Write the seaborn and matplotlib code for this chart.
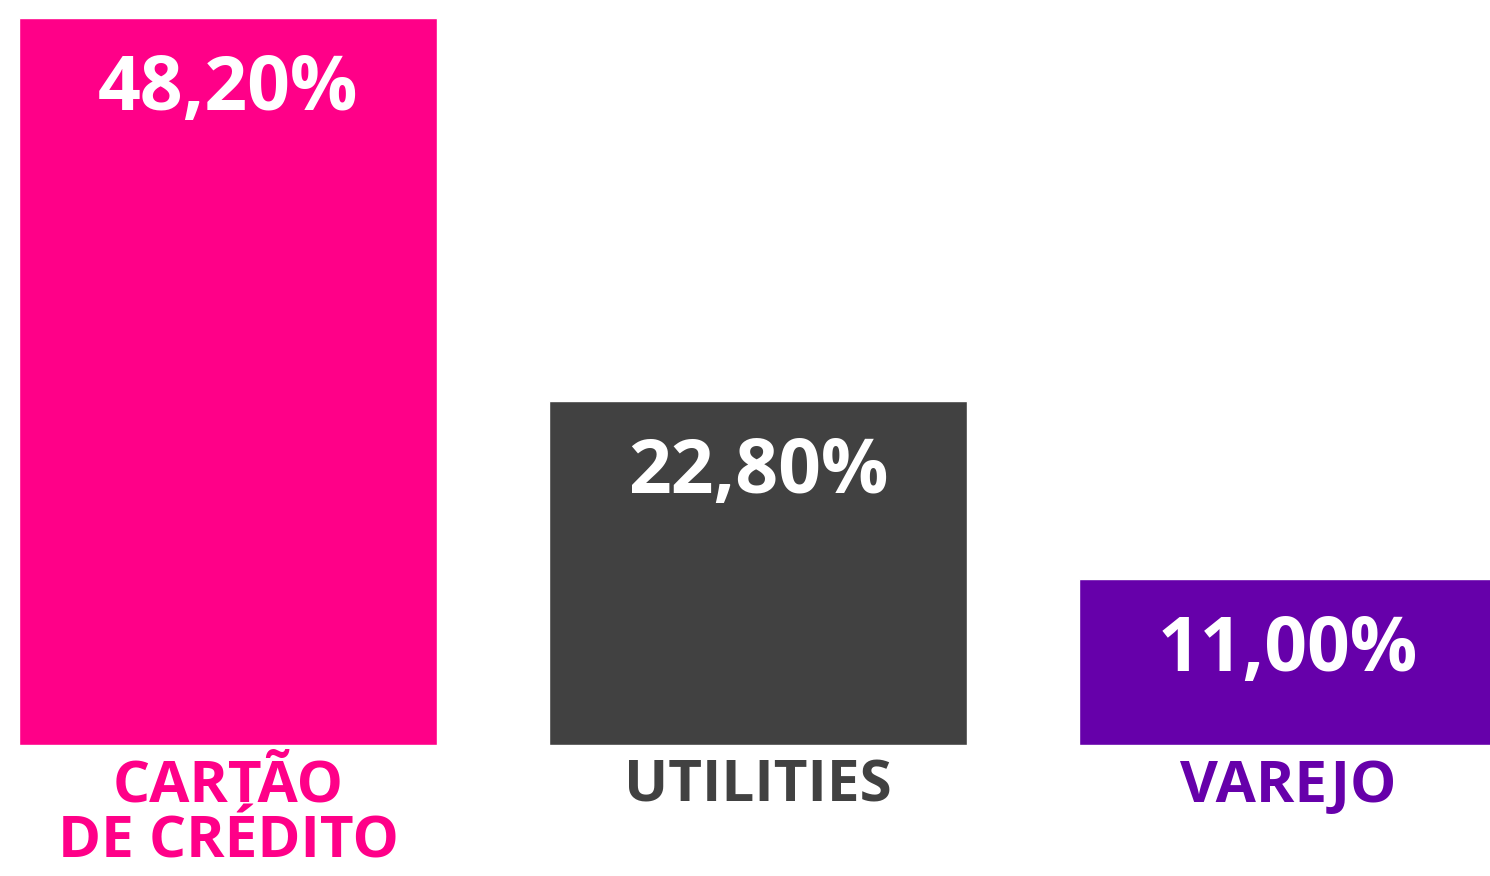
import matplotlib
matplotlib.use("Agg")
import matplotlib.pyplot as plt
import seaborn as sns
import pandas as pd

categories = ["CARTÃO\nDE CRÉDITO", "UTILITIES", "VAREJO"]
values = [48.20, 22.80, 11.00]
value_labels = ["48,20%", "22,80%", "11,00%"]
colors = ["#FF0088", "#414141", "#6600AA"]


def main():
    sns.set_style("white")
    plt.rcParams['font.family'] = ['Open Sans', 'DejaVu Sans']

    df = pd.DataFrame({'categoria': categories, 'valor': values})

    fig = plt.figure(figsize=(14.9, 8.76), dpi=100)
    ax = fig.add_axes([0, 131 / 876, 1, 745 / 876])

    sns.barplot(data=df, x='categoria', y='valor', hue='categoria',
                palette=colors, width=0.79, legend=False, ax=ax,
                saturation=1)

    ax.set_xlim(-228 / 530, 1262 / 530)
    ax.set_ylim(0, 48.2 * 745 / 727)

    for i, (v, lbl) in enumerate(zip(values, value_labels)):
        ax.annotate(lbl, xy=(i, v), xytext=(0, -92), textcoords='offset pixels',
                    ha='center', va='baseline', color='white',
                    fontsize=54, fontweight='bold')

    ax.set_xlabel('')
    ax.set_ylabel('')
    ax.set_yticks([])
    ax.tick_params(axis='x', length=0, pad=9)
    for tick, c in zip(ax.get_xticklabels(), colors):
        tick.set_color(c)
        tick.set_fontsize(42)
        tick.set_fontweight('bold')
        tick.set_linespacing(0.95)
    sns.despine(left=True, bottom=True)

    fig.savefig('out.png', dpi=100)


if __name__ == "__main__":
    main()
